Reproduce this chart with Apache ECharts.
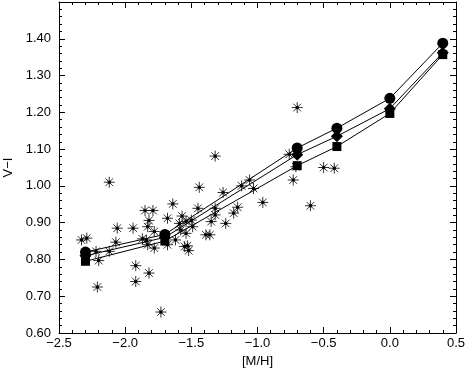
<!DOCTYPE html>
<html>
<head>
<meta charset="utf-8">
<script src="https://cdn.jsdelivr.net/npm/echarts@6/dist/echarts.min.js"></script>
<style>
  html, body { margin: 0; padding: 0; background: #fff; }
  #chart { width: 466px; height: 372px; }
</style>
</head>
<body>
<div id="chart"></div>
<script>
// observed clusters: [M/H], V-I
const starX = [-2.33, -2.29, -2.22, -2.20, -2.21, -2.12, -2.12, -2.07, -2.06, -1.94,
  -1.92, -1.92, -1.82, -1.85, -1.79, -1.82, -1.83, -1.87, -1.84, -1.78,
  -1.78, -1.83, -1.73, -1.68, -1.64, -1.68, -1.62, -1.57, -1.59, -1.58,
  -1.54, -1.50, -1.49, -1.54, -1.55, -1.53, -1.52, -1.44, -1.45, -1.39,
  -1.36, -1.35, -1.32, -1.32, -1.32, -1.26, -1.24, -1.18, -1.15, -1.12,
  -1.06, -1.03, -0.96, -0.76, -0.73, -0.71, -0.70, -0.60, -0.50, -0.42];
const starY = [0.853, 0.858, 0.822, 0.797, 0.725, 1.010, 0.822, 0.847, 0.885, 0.885,
  0.783, 0.740, 0.763, 0.933, 0.933, 0.906, 0.889, 0.856, 0.853, 0.876,
  0.831, 0.840, 0.657, 0.912, 0.951, 0.840, 0.853, 0.918, 0.898, 0.880,
  0.903, 0.907, 0.889, 0.871, 0.835, 0.837, 0.824, 0.996, 0.939, 0.867,
  0.867, 0.903, 0.921, 0.939, 1.081, 0.982, 0.898, 0.926, 0.942, 1.000,
  1.016, 0.993, 0.955, 1.086, 1.016, 1.052, 1.213, 0.946, 1.050, 1.048];

// model sequences
const modelX = [-2.3, -1.7, -0.7, -0.4, 0.0, 0.4];
const circleY = [0.820, 0.868, 1.103, 1.157, 1.238, 1.388];
const diamondY = [0.810, 0.860, 1.085, 1.135, 1.210, 1.362];
const squareY = [0.795, 0.850, 1.055, 1.107, 1.197, 1.357];

const font = 'Liberation Sans';
const starPath = 'path://M5,0L5,10M0,5L10,5M1.5,1.5L8.5,8.5M8.5,1.5L1.5,8.5M4,4L6,4L6,6L4,6Z';

function zip(xs, ys) { return xs.map((x, i) => [x, ys[i]]); }
function fmtX(v) {
  let s = Math.abs(v).toFixed(1);
  return v < -1e-9 ? '\u2212' + s : s;
}

function axisBits() {
  return {
    axisLine: { show: true, onZero: false, lineStyle: { color: '#000', width: 1 } },
    axisTick: { inside: true, length: 6, lineStyle: { color: '#000' } },
    minorTick: { show: true, splitNumber: 5, length: 3, lineStyle: { color: '#000' } },
    splitLine: { show: false }
  };
}

function modelSeries(ys, symbol, size) {
  return {
    type: 'line',
    data: zip(modelX, ys),
    symbol: symbol,
    symbolSize: size,
    lineStyle: { color: '#000', width: 1 },
    itemStyle: { color: '#000' },
    z: 3
  };
}

let myChart = echarts.init(document.getElementById('chart'));
myChart.setOption({
  animation: false,
  backgroundColor: '#fff',
  grid: { left: 59, right: 10, top: 2, bottom: 39, containLabel: false, outerBoundsMode: 'none' },
  xAxis: [
    Object.assign({
      type: 'value', min: -2.5, max: 0.5, interval: 0.5,
      name: '[M/H]', nameLocation: 'middle', nameGap: 22,
      nameTextStyle: { fontFamily: font, fontSize: 13, color: '#000' },
      axisLabel: { formatter: fmtX, margin: 4, fontFamily: font, fontSize: 13, color: '#000' }
    }, axisBits()),
    Object.assign({
      type: 'value', min: -2.5, max: 0.5, interval: 0.5, position: 'top',
      axisLabel: { show: false }
    }, axisBits())
  ],
  yAxis: [
    Object.assign({
      type: 'value', min: 0.6, max: 1.5, interval: 0.1,
      name: 'V\u2212I', nameLocation: 'middle', nameGap: 44,
      nameTextStyle: { fontFamily: font, fontSize: 13, color: '#000' },
      axisLabel: {
        formatter: v => v > 1.45 ? '' : v.toFixed(2),
        margin: 8, fontFamily: font, fontSize: 13, color: '#000'
      }
    }, axisBits()),
    Object.assign({
      type: 'value', min: 0.6, max: 1.5, interval: 0.1, position: 'right',
      axisLabel: { show: false }
    }, axisBits())
  ],
  series: [
    {
      type: 'scatter',
      data: zip(starX, starY),
      symbol: starPath,
      symbolSize: 11,
      itemStyle: { color: '#000', borderColor: '#000', borderWidth: 1 },
      z: 2
    },
    modelSeries(squareY, 'rect', 9),
    modelSeries(diamondY, 'diamond', 12),
    modelSeries(circleY, 'circle', 11)
  ]
});
</script>
</body>
</html>
